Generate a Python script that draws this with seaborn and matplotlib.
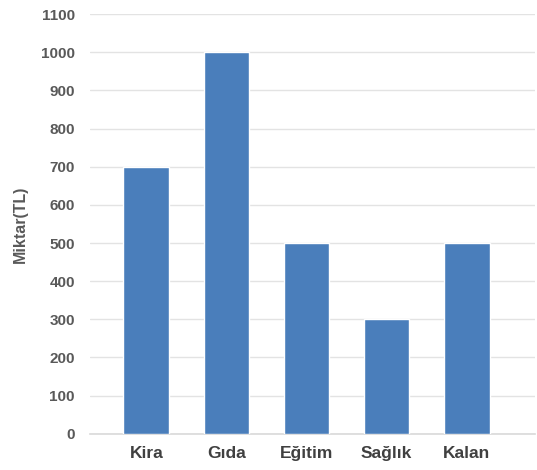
import matplotlib
matplotlib.use("Agg")
import matplotlib.pyplot as plt
import seaborn as sns
import pandas as pd

categories = ["Kira", "Gıda", "Eğitim", "Sağlık", "Kalan"]
amounts = [700, 1000, 500, 300, 500]
y_ticks = list(range(0, 1101, 100))

sns.set_style("white")
plt.rcParams['font.family'] = ['Liberation Sans', 'DejaVu Sans']

data = pd.DataFrame({"kategori": categories, "miktar": amounts})

fig = plt.figure(figsize=(5.37, 4.70), dpi=100)
ax = fig.add_axes([0.168, 0.077, 0.828, 0.893])

sns.barplot(data=data, x="kategori", y="miktar", color="#4a7ebb",
            saturation=1, width=0.57, ax=ax, zorder=3)

ax.set_ylim(0, 1100)
ax.set_xlim(-0.7, 4.85)
ax.set_yticks(y_ticks)
ax.grid(axis="y", color="#e3e3e3", linewidth=1, zorder=0)
ax.grid(axis="x", visible=False)
for s in ["top", "right", "left"]:
    ax.spines[s].set_visible(False)
ax.spines["bottom"].set_color("#d9d9d9")
ax.spines["bottom"].set_linewidth(1.2)
ax.tick_params(axis="both", length=0, colors="#595959")
ax.tick_params(axis="y", pad=11)
ax.tick_params(axis="x", pad=9)
for lab in ax.get_yticklabels():
    lab.set_fontsize(11)
    lab.set_fontweight("bold")
    lab.set_color("#595959")
for lab in ax.get_xticklabels():
    lab.set_fontsize(12.5)
    lab.set_fontweight("bold")
    lab.set_color("#404040")

ax.set_xlabel("")
ax.set_ylabel("Miktar(TL)", fontsize=11.5, fontweight="bold", color="#595959")
ax.yaxis.set_label_coords(-0.14, 0.5)

fig.savefig("out.png", dpi=100)
